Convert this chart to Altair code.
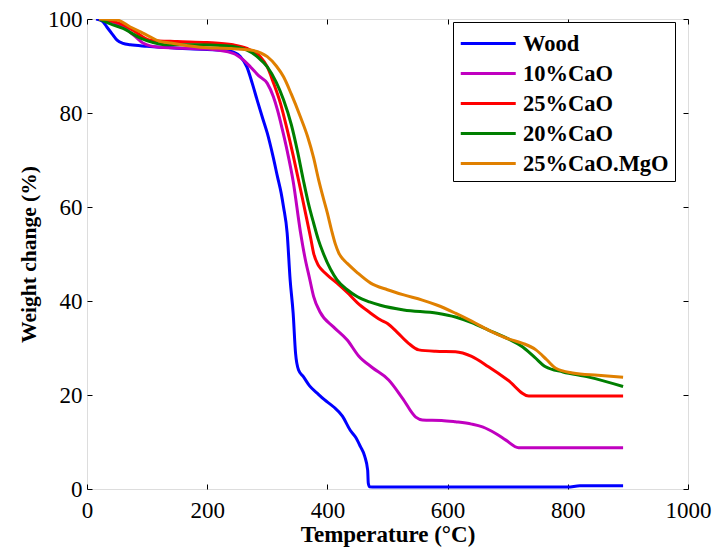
import altair as alt
import pandas as pd

series_names = ["Wood", "10%CaO", "25%CaO", "20%CaO", "25%CaO.MgO"]
series_colors = ["#0000ff", "#c000c0", "#ff0000", "#007f00", "#e08000"]

wood_t = [15, 25, 33, 42, 50, 60, 72, 100, 150, 200, 230, 243, 255, 266, 275, 283, 292, 300, 310, 317, 323, 327, 333, 338, 343, 347, 352, 360, 370, 383, 395, 410, 425, 438, 447, 455, 462, 467, 468, 470, 480, 600, 700, 800, 820, 892]
wood_w = [100, 99.6, 98.3, 96.8, 95.5, 94.8, 94.5, 94.2, 93.8, 93.5, 93.3, 93.0, 92.0, 89.8, 86.3, 82.8, 79.0, 75.7, 70.5, 66.4, 63.0, 60.0, 54.5, 44.5, 37.4, 28.9, 25.3, 23.9, 22.0, 20.4, 19.0, 17.5, 15.5, 12.5, 11.0, 9.0, 7.0, 4.0, 1.3, 0.5, 0.4, 0.4, 0.4, 0.4, 0.7, 0.7]

cao10_t = [20, 40, 60, 80, 93, 120, 200, 243, 260, 272, 285, 300, 310, 317, 325, 333, 343, 355, 363, 370, 377, 388, 410, 433, 452, 475, 502, 525, 547, 558, 590, 613, 640, 658, 680, 697, 718, 892]
cao10_w = [100, 99.5, 98.3, 96.3, 94.9, 94.0, 93.6, 92.7, 91.3, 89.8, 88.0, 86.3, 83.5, 80.6, 76.5, 72.0, 65.5, 54.8, 49.0, 45.0, 41.0, 37.6, 34.5, 31.7, 28.3, 25.8, 23.2, 19.3, 15.3, 14.7, 14.6, 14.3, 13.8, 13.2, 11.8, 10.4, 8.8, 8.8]

cao25_t = [20, 40, 60, 80, 105, 150, 200, 243, 265, 288, 300, 310, 322, 333, 343, 352, 359, 366, 372, 377, 384, 391, 400, 416, 433, 450, 470, 488, 500, 515, 535, 552, 580, 613, 640, 668, 700, 735, 892]
cao25_w = [100, 99.6, 98.8, 97.3, 95.5, 95.2, 95.0, 94.5, 93.8, 92.0, 89.8, 86.5, 82.0, 76.5, 71.0, 65.7, 61.5, 57.2, 53.5, 50.2, 47.8, 46.6, 45.5, 43.8, 41.8, 39.6, 37.6, 36.0, 35.2, 33.5, 31.0, 29.6, 29.3, 29.2, 28.2, 26.0, 23.2, 19.8, 19.8]

cao20_t = [20, 38, 60, 88, 110, 133, 180, 230, 266, 285, 300, 315, 327, 340, 350, 360, 368, 377, 385, 393, 405, 416, 433, 450, 470, 488, 527, 583, 613, 640, 668, 700, 725, 745, 763, 792, 835, 892]
cao20_w = [100, 99.0, 98.0, 96.0, 95.0, 94.5, 94.5, 94.3, 93.4, 91.8, 89.8, 86.5, 82.8, 77.5, 72.0, 65.7, 61.0, 56.6, 53.0, 50.2, 46.8, 44.5, 42.4, 40.9, 39.8, 39.1, 38.1, 37.4, 36.6, 35.4, 33.8, 32.0, 30.2, 28.0, 26.0, 24.9, 23.8, 21.8]

mgo_t = [20, 50, 72, 90, 105, 120, 138, 188, 240, 272, 300, 315, 327, 340, 355, 367, 377, 385, 393, 400, 407, 413, 419, 426, 433, 450, 472, 500, 527, 558, 583, 613, 640, 668, 700, 725, 747, 765, 780, 808, 850, 892]
mgo_w = [100, 99.8, 98.3, 97.2, 96.2, 95.3, 94.9, 94.0, 93.7, 93.4, 92.0, 90.0, 87.7, 84.0, 79.2, 75.0, 70.5, 66.0, 62.0, 58.7, 55.0, 52.2, 50.2, 48.9, 48.0, 46.0, 43.8, 42.4, 41.3, 40.2, 39.1, 37.4, 35.7, 33.8, 32.0, 31.0, 29.6, 27.5, 25.7, 24.7, 24.2, 23.8]

x_ticks = [0, 200, 400, 600, 800, 1000]
y_ticks = [0, 20, 40, 60, 80, 100]

rows = []
for k, (name, ts, ws) in enumerate(zip(series_names,
                                       [wood_t, cao10_t, cao25_t, cao20_t, mgo_t],
                                       [wood_w, cao10_w, cao25_w, cao20_w, mgo_w])):
    for i, (t, w) in enumerate(zip(ts, ws)):
        rows.append({"series": name, "k": k, "i": i, "T": t, "W": w})
df = pd.DataFrame(rows)

FONT = "Liberation Serif"
xs = alt.Scale(domain=[0, 1000], nice=False)
ys = alt.Scale(domain=[0, 100], nice=False)

base = alt.Chart(df)

lines = base.mark_line(strokeWidth=3, clip=True, interpolate="monotone").encode(
    x=alt.X("T:Q", scale=xs, axis=alt.Axis(
        orient="bottom", values=x_ticks, format="d", tickSize=0, domain=False, grid=False,
        labelFlush=False, labelOverlap=False,
        labelFont=FONT, labelFontSize=23, labelColor="black", labelPadding=10,
        title="Temperature (°C)", titleFont=FONT, titleFontSize=23,
        titleFontWeight="bold", titleColor="black", titlePadding=1)),
    y=alt.Y("W:Q", scale=ys, axis=alt.Axis(
        orient="left", values=y_ticks, format="d", tickSize=0, domain=False, grid=False,
        labelFlush=False, labelOverlap=False,
        labelFont=FONT, labelFontSize=23, labelColor="black", labelPadding=5,
        title="Weight change (%)", titleFont=FONT, titleFontSize=21.5,
        titleFontWeight="bold", titleColor="black", titlePadding=7)),
    color=alt.Color("series:N", sort=series_names,
                    scale=alt.Scale(domain=series_names, range=series_colors),
                    legend=alt.Legend(
                        title=None, orient="none", legendX=366, legendY=3,
                        direction="vertical", symbolType="M-1,0H3",
                        symbolStrokeWidth=3, symbolSize=756,
                        symbolFillColor="transparent",
                        labelFont=FONT, labelFontWeight="bold", labelFontSize=22.5,
                        labelColor="black", labelOffset=33, rowPadding=3,
                        strokeColor="black", fillColor="white", padding=6,
                        cornerRadius=0, labelLimit=400)),
    order=alt.Order("i:Q"),
    detail="k:O",
)

tick_axis = dict(tickSize=5, tickWidth=1, tickColor="black", labels=False,
                 domain=False, grid=False, title=None, offset=-5)

ticks_bl = base.mark_point(opacity=0).encode(
    x=alt.X("T:Q", scale=xs, axis=alt.Axis(orient="bottom", values=x_ticks, **tick_axis)),
    y=alt.Y("W:Q", scale=ys, axis=alt.Axis(orient="left", values=y_ticks, **tick_axis)),
)
ticks_tr = base.mark_point(opacity=0).encode(
    x=alt.X("T:Q", scale=xs, axis=alt.Axis(orient="top", values=x_ticks, **tick_axis)),
    y=alt.Y("W:Q", scale=ys, axis=alt.Axis(orient="right", values=y_ticks, **tick_axis)),
)

chart = alt.layer(lines, ticks_bl, ticks_tr).resolve_axis(
    x="independent", y="independent"
).resolve_scale(x="shared", y="shared").properties(
    width=601, height=470,
    autosize=alt.AutoSizeParams(type="none"),
    padding={"left": 87, "top": 19, "right": 27, "bottom": 65},
).configure_view(stroke="black", strokeWidth=1.5).configure(background="white")

chart.save("out.html", embed_options={"renderer": "svg", "actions": False})
